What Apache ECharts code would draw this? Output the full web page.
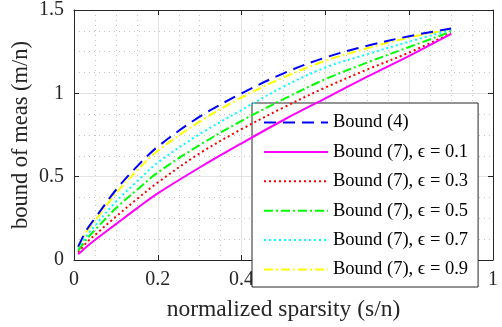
<!DOCTYPE html>
<html>
<head>
<meta charset="utf-8">
<script src="https://cdn.jsdelivr.net/npm/echarts@6/dist/echarts.min.js"></script>
<style>
  html, body { margin: 0; padding: 0; background: #fff; }
  #chart { width: 502px; height: 327px; }
</style>
</head>
<body>
<div id="chart"></div>
<script>
// normalized sparsity s/n
var sparsity = [0.01, 0.03, 0.05, 0.1, 0.15, 0.2, 0.3, 0.4, 0.5, 0.6, 0.7, 0.8, 0.9];

// m/n
var bound4    = [0.08, 0.18, 0.25, 0.42, 0.56, 0.68, 0.86, 1.0, 1.12, 1.215, 1.285, 1.343, 1.389];
var bound7e01 = [0.035, 0.08, 0.12, 0.215, 0.31, 0.40, 0.555, 0.70, 0.84, 0.97, 1.10, 1.225, 1.357];
var bound7e03 = [0.045, 0.105, 0.15, 0.26, 0.365, 0.465, 0.64, 0.785, 0.915, 1.035, 1.143, 1.245, 1.36];
var bound7e05 = [0.055, 0.125, 0.18, 0.31, 0.42, 0.525, 0.69, 0.835, 0.965, 1.085, 1.185, 1.278, 1.37];
var bound7e07 = [0.065, 0.145, 0.205, 0.35, 0.47, 0.585, 0.755, 0.90, 1.04, 1.155, 1.235, 1.31, 1.38];
var bound7e09 = [0.075, 0.17, 0.235, 0.40, 0.535, 0.655, 0.83, 0.975, 1.095, 1.195, 1.27, 1.335, 1.385];

var seriesNames = ['Bound (4)', 'Bound (7), ϵ = 0.1', 'Bound (7), ϵ = 0.3',
                   'Bound (7), ϵ = 0.5', 'Bound (7), ϵ = 0.7', 'Bound (7), ϵ = 0.9'];
var seriesValues = [bound4, bound7e01, bound7e03, bound7e05, bound7e07, bound7e09];
var seriesColors = ['#0000ff', '#ff00ff', '#ff0000', '#00ff00', '#00ffff', '#ffff00'];
var seriesDash = [[12, 7], 'solid', [2, 3], [9, 3, 2, 3], [2, 3], [9, 3, 2, 3]];

var FONT = '"Liberation Serif", "DejaVu Serif", serif';

function pairs(xs, ys) {
  return xs.map(function (x, i) { return [x, ys[i]]; });
}

var myChart = echarts.init(document.getElementById('chart'), null, { renderer: 'canvas' });

function fmt(v) { return String(+v.toFixed(1)); }

function xAxisDef(pos, labels) {
  return {
    type: 'value', position: pos, min: 0, max: 1, interval: 0.2,
    name: labels ? 'normalized sparsity (s/n)' : '',
    nameLocation: 'middle', nameGap: 38,
    nameTextStyle: { fontFamily: FONT, fontSize: 23.5, color: '#262626' },
    axisLine: { show: true, onZero: false, lineStyle: { color: '#262626', width: 1 } },
    axisTick: { show: true, inside: true, length: 5, lineStyle: { color: '#262626' } },
    axisLabel: { show: labels, fontFamily: FONT, fontSize: 20, color: '#262626', margin: 10, formatter: fmt },
    splitLine: { show: labels, lineStyle: { color: '#e3e3e3', width: 1 } },
    minorTick: { show: false, splitNumber: 4 },
    minorSplitLine: { show: labels, lineStyle: { color: '#c4c4c4', width: 1, type: [1, 4] } }
  };
}

function yAxisDef(pos, labels) {
  return {
    type: 'value', position: pos, min: 0, max: 1.5, interval: 0.5,
    name: labels ? 'bound of meas (m/n)' : '',
    nameLocation: 'middle', nameGap: 41, nameMoveOverlap: false,
    nameTextStyle: { fontFamily: FONT, fontSize: 22.5, color: '#262626' },
    axisLine: { show: true, onZero: false, lineStyle: { color: '#262626', width: 1 } },
    axisTick: { show: true, inside: true, length: 5, lineStyle: { color: '#262626' } },
    axisLabel: { show: labels, fontFamily: FONT, fontSize: 20, color: '#262626', margin: 10, formatter: fmt },
    splitLine: { show: labels, lineStyle: { color: '#e3e3e3', width: 1 } },
    minorTick: { show: false, splitNumber: 4 },
    minorSplitLine: { show: labels, lineStyle: { color: '#c4c4c4', width: 1, type: [1, 4] } }
  };
}

var series = seriesNames.map(function (name, i) {
  return {
    name: name,
    type: 'line',
    data: pairs(sparsity, seriesValues[i]),
    smooth: 0.35,
    symbol: 'none',
    showSymbol: false,
    color: seriesColors[i],
    lineStyle: { color: seriesColors[i], width: 2, type: seriesDash[i] },
    z: 10 - i
  };
});

myChart.setOption({
  animation: false,
  backgroundColor: '#fff',
  grid: { left: 74, top: 5, right: 9, bottom: 66 },
  xAxis: [xAxisDef('bottom', true), xAxisDef('top', false)],
  yAxis: [yAxisDef('left', true), yAxisDef('right', false)],
  legend: {
    orient: 'vertical',
    left: 252, top: 103,
    padding: [10, 10, 8, 11],
    backgroundColor: '#fff',
    borderColor: '#262626',
    borderWidth: 1,
    borderRadius: 0,
    itemWidth: 64, itemHeight: 14, itemGap: 10.4,
    itemStyle: { opacity: 0 },
    textStyle: { fontFamily: FONT, fontSize: 18.5, color: '#000' },
    data: seriesNames
  },
  series: series
});

window.addEventListener('resize', function () { myChart.resize(); });
</script>
</body>
</html>
